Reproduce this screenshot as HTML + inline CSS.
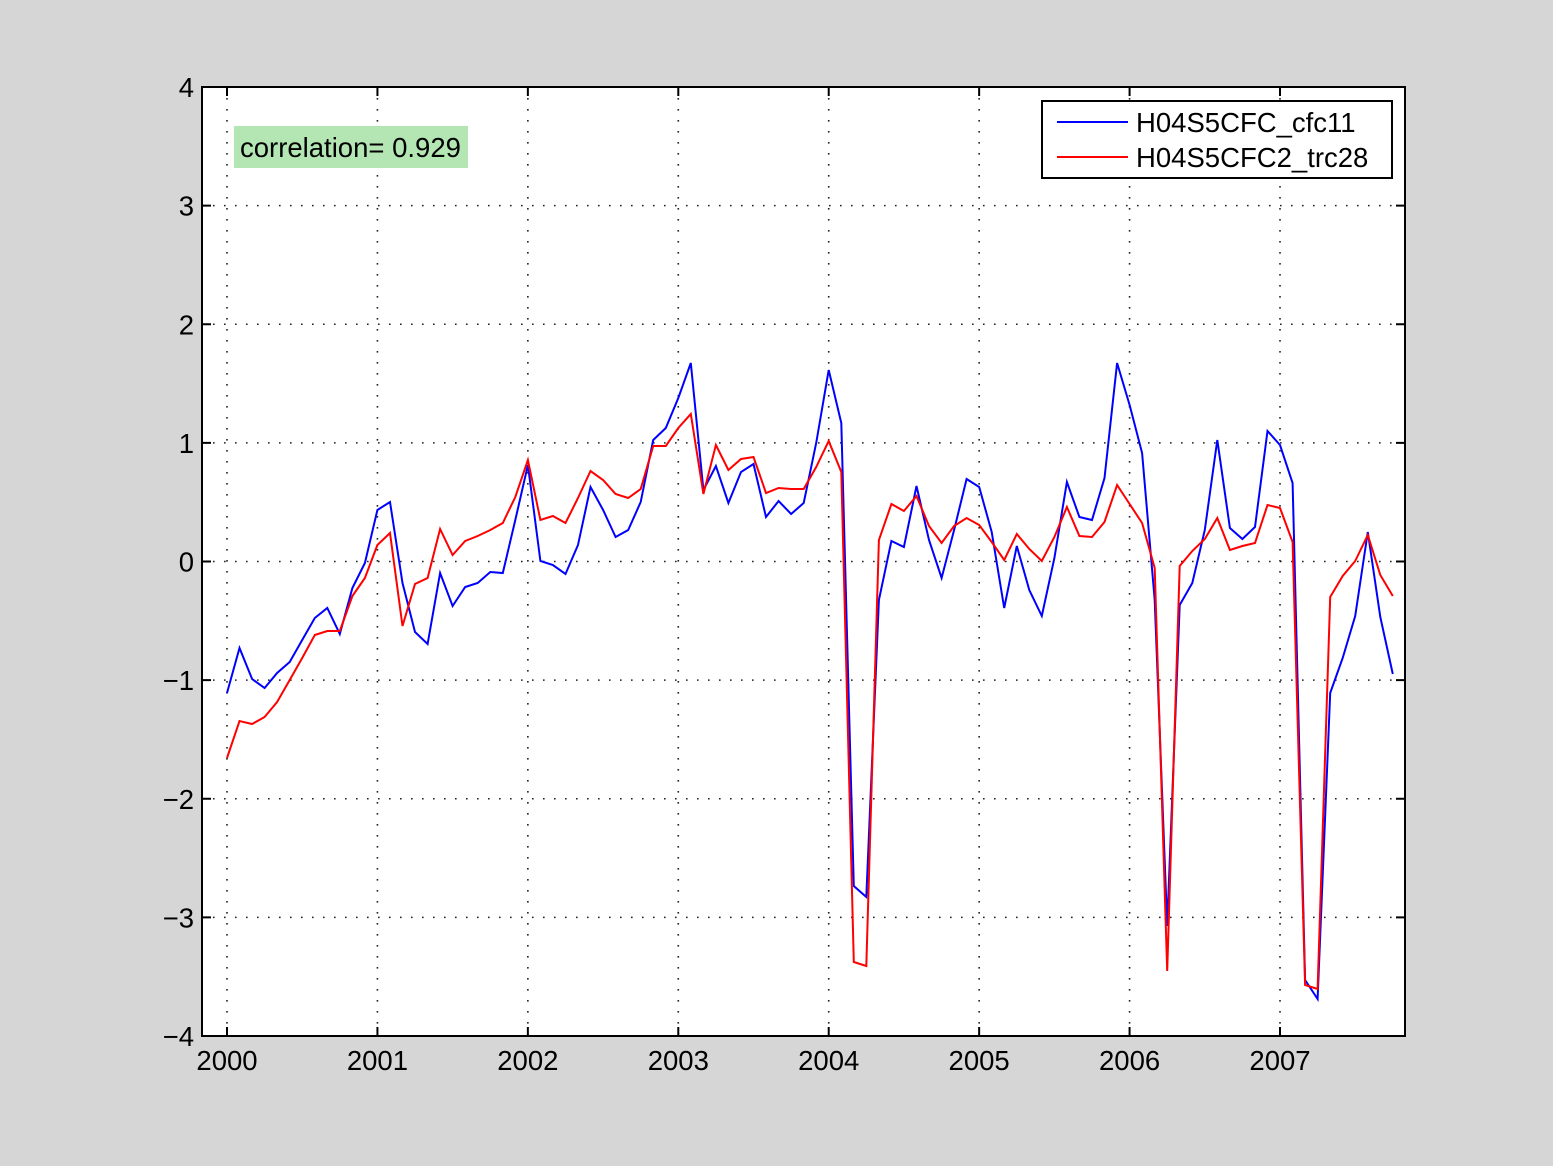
<!DOCTYPE html>
<html><head><meta charset="utf-8"><style>
html,body{margin:0;padding:0;background:#d6d6d6;}
svg{display:block;font-family:"Liberation Sans",sans-serif;}
</style></head><body>
<svg id="s" width="1553" height="1166" xmlns="http://www.w3.org/2000/svg">
<rect x="0" y="0" width="1553" height="1166" fill="#d6d6d6"/>
<rect x="202" y="87" width="1203" height="949" fill="#fff"/>
<g id="grid" stroke="#222" stroke-width="1.6" stroke-dasharray="1.6 9.4"></g>
<g id="ticks" stroke="#000" stroke-width="2"></g>
<polyline id="blue" fill="none" stroke="#0000ff" stroke-width="2"/>
<polyline id="red" fill="none" stroke="#ff0000" stroke-width="2"/>
<rect x="202" y="87" width="1203" height="949" fill="none" stroke="#000" stroke-width="2"/>
<g id="labels" font-size="27.5" fill="#000"></g>
<rect x="234" y="126" width="234" height="42" fill="#b3e6b3"/>
<text x="240" y="157" font-size="27.5">correlation= 0.929</text>
<rect x="1042" y="101" width="350" height="77" fill="#fff" stroke="#000" stroke-width="2"/>
<line x1="1057" y1="122" x2="1128" y2="122" stroke="#0000ff" stroke-width="2"/>
<line x1="1057" y1="157" x2="1128" y2="157" stroke="#ff0000" stroke-width="2"/>
<text x="1136" y="132" font-size="27.5">H04S5CFC_cfc11</text>
<text x="1136" y="167" font-size="27.5">H04S5CFC2_trc28</text>
</svg>
<script>
var ns="http://www.w3.org/2000/svg";
function el(p,t,a,txt){var e=document.createElementNS(ns,t);for(var k in a)e.setAttribute(k,a[k]);if(txt!=null)e.textContent=txt;document.getElementById(p).appendChild(e);}
var L=202,R=1405,T=87,B=1036;
function yp(v){return 561.5-v*118.625;}
function xp(yr){return 227+(yr-2000)*150.43;}
for(var v=-3;v<=3;v++){el('grid','line',{x1:L,x2:R,y1:yp(v),y2:yp(v)});}
for(var y=2000;y<=2007;y++){el('grid','line',{x1:xp(y),x2:xp(y),y1:T,y2:B});}
for(var v=-4;v<=4;v++){var yy=yp(v);el('ticks','line',{x1:L,x2:L+9,y1:yy,y2:yy});el('ticks','line',{x1:R-9,x2:R,y1:yy,y2:yy});
el('labels','text',{x:194,y:yy+10,'text-anchor':'end'},(v<0?'\u2212':'')+Math.abs(v));}
for(var y=2000;y<=2007;y++){var xx=xp(y);el('ticks','line',{x1:xx,x2:xx,y1:B-9,y2:B});el('ticks','line',{x1:xx,x2:xx,y1:T,y2:T+9});
el('labels','text',{x:xx,y:1070,'text-anchor':'middle'},String(y));}
var b=[693,648,679,688,673,662,640,618,608,634,588,563,510,502,583,632,644,573,606,587,583,572,573,520,465,561,565,574,545,487,510,537,530,502,440,428,398,363,490,466,503,472,464,517,501,514,503,443,370,423,886,897,600,541,547,486,540,578,530,479,487,532,608,546,590,616,558,482,517,520,478,363,405,453,600,926,605,583,530,440,528,539,527,431,445,483,980,999,693,658,616,532,617,674];
var r=[758,721,724,717,702,680,658,635,631,631,596,578,545,533,626,584,578,529,555,541,536,530,523,497,460,520,516,523,498,471,480,494,498,489,446,446,428,414,494,445,470,459,457,493,488,489,489,467,441,472,962,966,540,504,511,496,526,543,526,518,525,542,560,534,549,561,537,507,536,537,522,485,504,523,568,971,566,551,539,518,550,546,543,505,508,542,985,989,597,576,561,535,575,596];
function pts(a){return a.map(function(v,i){return (227+i*12.536).toFixed(1)+','+v;}).join(' ');}
document.getElementById('blue').setAttribute('points',pts(b));
document.getElementById('red').setAttribute('points',pts(r));
</script>
</body></html>
